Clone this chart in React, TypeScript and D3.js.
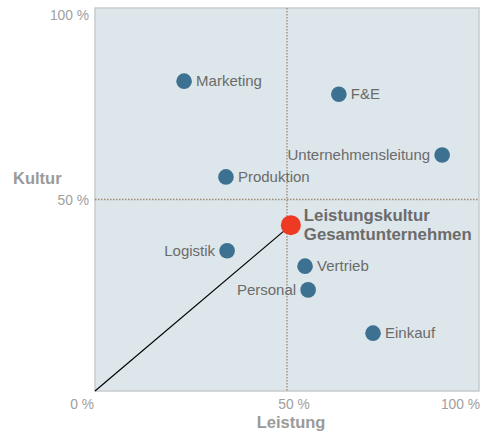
import React from "react";
import * as d3 from "d3";

const names = ["Marketing", "F&E", "Unternehmensleitung", "Produktion", "Logistik", "Vertrieb", "Personal", "Einkauf"];
const leistung = [23.2, 63.5, 90.4, 34.1, 34.4, 54.7, 55.5, 72.4];
const kultur = [80.9, 77.5, 61.6, 55.9, 36.6, 32.6, 26.4, 15.1];
const labelSide = ["right", "right", "left", "right", "left", "right", "left", "right"];
const totalLabel = ["Leistungskultur", "Gesamtunternehmen"];
const totalValue = [51.0, 43.3];
const ticks = [0, 50, 100];

const W = 481, H = 432;
const L = 95, R = 479, T = 8, B = 391;

export default function App() {
  const x = d3.scaleLinear().domain([0, 100]).range([L, R]);
  const y = d3.scaleLinear().domain([0, 100]).range([B, T]);
  const font = "'Liberation Sans', Arial, sans-serif";
  const xTickX = (t: number) => (t === 0 ? x(t) - 1 : t === 100 ? x(t) + 1 : x(t) + 7);
  return (
    <svg width={W} height={H} style={{ position: "absolute", left: 0, top: 0, fontFamily: font }}>
      <rect x={L} y={T} width={R - L} height={B - T} fill="#dde6ea" stroke="#c8cccd" strokeWidth={1.5} />
      <line x1={x(50)} x2={x(50)} y1={T} y2={B} stroke="#9c8a72" strokeDasharray="1.5,1.5" strokeWidth={1.3} />
      <line x1={L} x2={R} y1={y(50)} y2={y(50)} stroke="#9c8a72" strokeDasharray="1.5,1.5" strokeWidth={1.3} />
      <line x1={x(0)} y1={y(0)} x2={x(totalValue[0])} y2={y(totalValue[1])} stroke="#000" strokeWidth={1.2} />
      {ticks.map((t) => (
        <text key={"x" + t} x={xTickX(t)} y={B + 18} textAnchor={t === 50 ? "middle" : "end"} fontSize={13.8} fill="#a0a0a0">
          {t + " %"}
        </text>
      ))}
      {ticks.filter((t) => t > 0).map((t) => (
        <text key={"y" + t} x={L - 6} y={t === 100 ? T + 12 : y(t) + 5} textAnchor="end" fontSize={13.8} fill="#a0a0a0">
          {t + " %"}
        </text>
      ))}
      <text x={x(50) + 4} y={B + 37} textAnchor="middle" fontSize={16.5} fontWeight="bold" fill="#9a9a9a">Leistung</text>
      <text x={13} y={y(50) - 16} fontSize={16.5} fontWeight="bold" fill="#9a9a9a">Kultur</text>
      {names.map((n, i) => {
        const cx = x(leistung[i]);
        const cy = y(kultur[i]);
        const right = labelSide[i] === "right";
        return (
          <g key={n}>
            <circle cx={cx} cy={cy} r={7.8} fill="#3d7191" />
            <text x={right ? cx + 12 : cx - 12} y={cy + 5} textAnchor={right ? "start" : "end"} fontSize={15} fill="#6b6b6b">{n}</text>
          </g>
        );
      })}
      <circle cx={x(totalValue[0])} cy={y(totalValue[1])} r={10} fill="#ee3a22" />
      {totalLabel.map((t, i) => (
        <text key={t} x={x(totalValue[0]) + 13} y={y(totalValue[1]) - 4 + i * 19} fontSize={16.8} fontWeight="bold" fill="#6b6b6b">{t}</text>
      ))}
    </svg>
  );
}
